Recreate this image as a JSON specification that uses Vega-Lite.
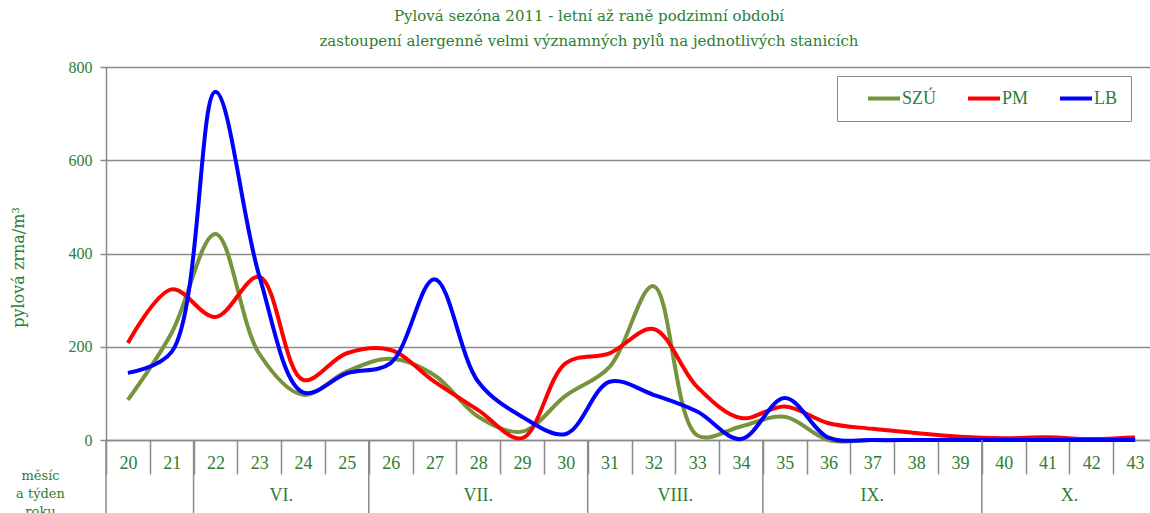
{
  "$schema": "https://vega.github.io/schema/vega-lite/v6.json",
  "autosize": "none",
  "width": 1044,
  "height": 373,
  "padding": {"left": 106, "top": 67, "right": 0, "bottom": 73},
  "background": "white",
  "config": {"font": "Liberation Serif", "view": {"stroke": null}},
  "title": {
    "text": ["Pylová sezóna 2011 - letní až raně podzimní období", "zastoupení alergenně velmi významných pylů na jednotlivých stanicích"],
    "font": "DejaVu Serif",
    "fontSize": 15,
    "fontWeight": "normal",
    "color": "#2e7d32",
    "lineHeight": 25,
    "anchor": "middle",
    "frame": "group",
    "dx": -39,
    "offset": 10
  },
  "datasets": {
    "pollen": [
      {"week": 20, "station": "SZÚ", "value": 86},
      {"week": 21, "station": "SZÚ", "value": 230},
      {"week": 22, "station": "SZÚ", "value": 442},
      {"week": 23, "station": "SZÚ", "value": 185},
      {"week": 24, "station": "SZÚ", "value": 97},
      {"week": 25, "station": "SZÚ", "value": 147},
      {"week": 26, "station": "SZÚ", "value": 174},
      {"week": 27, "station": "SZÚ", "value": 139},
      {"week": 28, "station": "SZÚ", "value": 50},
      {"week": 29, "station": "SZÚ", "value": 18},
      {"week": 30, "station": "SZÚ", "value": 95},
      {"week": 31, "station": "SZÚ", "value": 157},
      {"week": 32, "station": "SZÚ", "value": 330},
      {"week": 33, "station": "SZÚ", "value": 10},
      {"week": 34, "station": "SZÚ", "value": 29},
      {"week": 35, "station": "SZÚ", "value": 50},
      {"week": 36, "station": "SZÚ", "value": 0},
      {"week": 37, "station": "SZÚ", "value": 0},
      {"week": 38, "station": "SZÚ", "value": 0},
      {"week": 39, "station": "SZÚ", "value": 0},
      {"week": 40, "station": "SZÚ", "value": 0},
      {"week": 41, "station": "SZÚ", "value": 0},
      {"week": 42, "station": "SZÚ", "value": 0},
      {"week": 43, "station": "SZÚ", "value": 0},
      {"week": 20, "station": "PM", "value": 208},
      {"week": 21, "station": "PM", "value": 323},
      {"week": 22, "station": "PM", "value": 264},
      {"week": 23, "station": "PM", "value": 350},
      {"week": 24, "station": "PM", "value": 129},
      {"week": 25, "station": "PM", "value": 186},
      {"week": 26, "station": "PM", "value": 193},
      {"week": 27, "station": "PM", "value": 125},
      {"week": 28, "station": "PM", "value": 64},
      {"week": 29, "station": "PM", "value": 4},
      {"week": 30, "station": "PM", "value": 165},
      {"week": 31, "station": "PM", "value": 186},
      {"week": 32, "station": "PM", "value": 238},
      {"week": 33, "station": "PM", "value": 114},
      {"week": 34, "station": "PM", "value": 47},
      {"week": 35, "station": "PM", "value": 72},
      {"week": 36, "station": "PM", "value": 36},
      {"week": 37, "station": "PM", "value": 24},
      {"week": 38, "station": "PM", "value": 15},
      {"week": 39, "station": "PM", "value": 7},
      {"week": 40, "station": "PM", "value": 4},
      {"week": 41, "station": "PM", "value": 6},
      {"week": 42, "station": "PM", "value": 2},
      {"week": 43, "station": "PM", "value": 6},
      {"week": 20, "station": "LB", "value": 144},
      {"week": 21, "station": "LB", "value": 189},
      {"week": 22, "station": "LB", "value": 747},
      {"week": 23, "station": "LB", "value": 352},
      {"week": 24, "station": "LB", "value": 102},
      {"week": 25, "station": "LB", "value": 143},
      {"week": 26, "station": "LB", "value": 165},
      {"week": 27, "station": "LB", "value": 345},
      {"week": 28, "station": "LB", "value": 125},
      {"week": 29, "station": "LB", "value": 50},
      {"week": 30, "station": "LB", "value": 13},
      {"week": 31, "station": "LB", "value": 125},
      {"week": 32, "station": "LB", "value": 97},
      {"week": 33, "station": "LB", "value": 61},
      {"week": 34, "station": "LB", "value": 2},
      {"week": 35, "station": "LB", "value": 90},
      {"week": 36, "station": "LB", "value": 5},
      {"week": 37, "station": "LB", "value": 0},
      {"week": 38, "station": "LB", "value": 0},
      {"week": 39, "station": "LB", "value": 0},
      {"week": 40, "station": "LB", "value": 0},
      {"week": 41, "station": "LB", "value": 0},
      {"week": 42, "station": "LB", "value": 0},
      {"week": 43, "station": "LB", "value": 0}
    ],
    "months": [
      {"month": "", "first": 20, "last": 21},
      {"month": "VI.", "first": 22, "last": 25},
      {"month": "VII.", "first": 26, "last": 30},
      {"month": "VIII.", "first": 31, "last": 34},
      {"month": "IX.", "first": 35, "last": 39},
      {"month": "X.", "first": 40, "last": 43}
    ]
  },
  "layer": [
    {
      "data": {"name": "pollen"},
      "mark": {"type": "line", "interpolate": "catmull-rom", "strokeWidth": 4},
      "encoding": {
        "x": {
          "field": "week",
          "type": "quantitative",
          "scale": {"domain": [19.5, 43.5], "range": [0, 1051], "nice": false, "zero": false},
          "axis": {
            "title": ["měsíc", "a týden", "roku"],
            "titleFont": "DejaVu Serif",
            "titleFontSize": 13,
            "titleFontWeight": "normal",
            "titleColor": "#2e7d32",
            "titleX": -66,
            "titleY": 29,
            "titleAlign": "center",
            "titleBaseline": "top",
            "titleAnchor": null,
            "titleLineHeight": 18,
            "values": [19.5, 20.5, 21.5, 22.5, 23.5, 24.5, 25.5, 26.5, 27.5, 28.5, 29.5, 30.5, 31.5, 32.5, 33.5, 34.5, 35.5, 36.5, 37.5, 38.5, 39.5, 40.5, 41.5, 42.5],
            "labelExpr": "'' + (datum.value + 0.5)",
            "labelOffset": 21.9,
            "labelAlign": "center",
            "labelBaseline": "middle",
            "labelPadding": -11,
            "labelFontSize": 18,
            "labelColor": "#2e7d32",
            "labelOverlap": false,
            "labelFlush": false,
            "labelBound": false,
            "tickSize": 34,
            "tickColor": "#8a8a8a",
            "tickWidth": 1.5,
            "domainColor": "#8a8a8a",
            "domainWidth": 1.5,
            "grid": false
          }
        },
        "y": {
          "field": "value",
          "type": "quantitative",
          "scale": {"domain": [0, 800], "nice": false},
          "axis": {
            "title": "pylová zrna/m³",
            "titleFont": "DejaVu Serif",
            "titleFontSize": 16,
            "titleFontWeight": "normal",
            "titleColor": "#2e7d32",
            "titleX": -88,
            "titleY": 200,
            "titleAlign": "center",
            "titleBaseline": "middle",
            "titleAngle": -90,
            "values": [0, 200, 400, 600, 800],
            "labelFontSize": 16,
            "labelColor": "#2e7d32",
            "labelPadding": 8,
            "tickSize": 6,
            "tickColor": "#8a8a8a",
            "tickWidth": 1.5,
            "domainColor": "#8a8a8a",
            "domainWidth": 1.5,
            "grid": true,
            "gridColor": "#8a8a8a",
            "gridWidth": 1.5
          }
        },
        "color": {
          "field": "station",
          "type": "nominal",
          "scale": {"domain": ["SZÚ", "PM", "LB"], "range": ["#77933C", "#FF0000", "#0000FF"]},
          "legend": {
            "orient": "none",
            "legendX": 731,
            "legendY": 9,
            "direction": "horizontal",
            "title": " ",
            "titleOrient": "left",
            "titlePadding": 16,
            "titleFontSize": 18,
            "gridAlign": "each",
            "columnPadding": 29,
            "padding": 13,
            "clipHeight": 19,
            "strokeColor": "#8a8a8a",
            "fillColor": "white",
            "symbolType": "stroke",
            "symbolSize": 1024,
            "symbolStrokeWidth": 4,
            "labelOffset": 0,
            "labelFontSize": 18,
            "labelColor": "#2e7d32"
          }
        }
      }
    },
    {
      "data": {"name": "months"},
      "transform": [{"calculate": "datum.first - 0.5", "as": "start"}],
      "mark": {"type": "rule", "color": "#8a8a8a", "strokeWidth": 1.5},
      "encoding": {
        "x": {"field": "start", "type": "quantitative"},
        "y": {"datum": 0},
        "y2": {"datum": -157}
      }
    },
    {
      "data": {"name": "months"},
      "transform": [{"calculate": "(datum.first + datum.last) / 2", "as": "mid"}],
      "mark": {"type": "text", "fontSize": 18, "color": "#2e7d32", "baseline": "middle", "align": "center"},
      "encoding": {
        "x": {"field": "mid", "type": "quantitative"},
        "y": {"datum": -120},
        "text": {"field": "month"}
      }
    }
  ]
}
